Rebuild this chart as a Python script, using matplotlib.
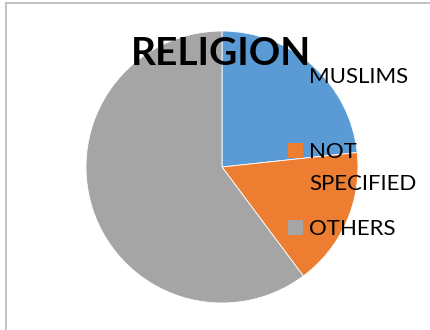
import matplotlib
matplotlib.use("Agg")
from matplotlib import pyplot as plt
from matplotlib.patches import Rectangle
from matplotlib.lines import Line2D

# data (shares, percent)
labels = ["MUSLIMS", "NOT\nSPECIFIED", "OTHERS"]
shares = [23.3, 16.5, 60.2]
colors = ["#5B9BD5", "#ED7D31", "#A5A5A5"]

W, H = 431, 330
DPI = 100
plt.rcParams['font.family'] = ['Lato', 'DejaVu Sans']

fig = plt.figure(figsize=(W / DPI, H / DPI), dpi=DPI)

def px(x, y):
    # pixel coords (from top-left) -> figure fraction
    return x / W, 1 - y / H

# chart frame (top and left edges only visible)
fig.add_artist(Line2D([6 / W, 1], [1 - 2.5 / H, 1 - 2.5 / H], color="#B8B8B8", lw=1.2))
fig.add_artist(Line2D([6 / W, 6 / W], [0, 1 - 2.5 / H], color="#B8B8B8", lw=1.2))

# pie, centre (222,167) radius 136 px
cx, cy, r = 222, 167, 136
ax = fig.add_axes([(cx - r) / W, (H - cy - r) / H, 2 * r / W, 2 * r / H])
ax.pie(shares, colors=colors, startangle=90, counterclock=False, radius=1,
       wedgeprops=dict(linewidth=0.6, edgecolor="white"))
ax.set_xlim(-1, 1)
ax.set_ylim(-1, 1)
ax.set_aspect("equal")
ax.axis("off")

# title overlapping the pie
fig.text(*px(131, 65), "RELIGION", fontsize=28, fontweight="bold",
         ha="left", va="baseline", color="black")

# legend drawn by hand (Excel-style wrapped entries)
fs = 16
baselines = [83, 158, 235]
line_step = 32
for lab, col, b in zip(labels, colors, baselines):
    x0, y0 = px(288, b)
    fig.add_artist(Rectangle((x0, y0), 15 / W, 15 / H, transform=fig.transFigure,
                             facecolor=col, edgecolor="none"))
    for i, part in enumerate(lab.split("\n")):
        fig.text(*px(309, b + i * line_step), part, fontsize=fs,
                 ha="left", va="baseline", color="black")

fig.savefig("out.png", dpi=DPI)
